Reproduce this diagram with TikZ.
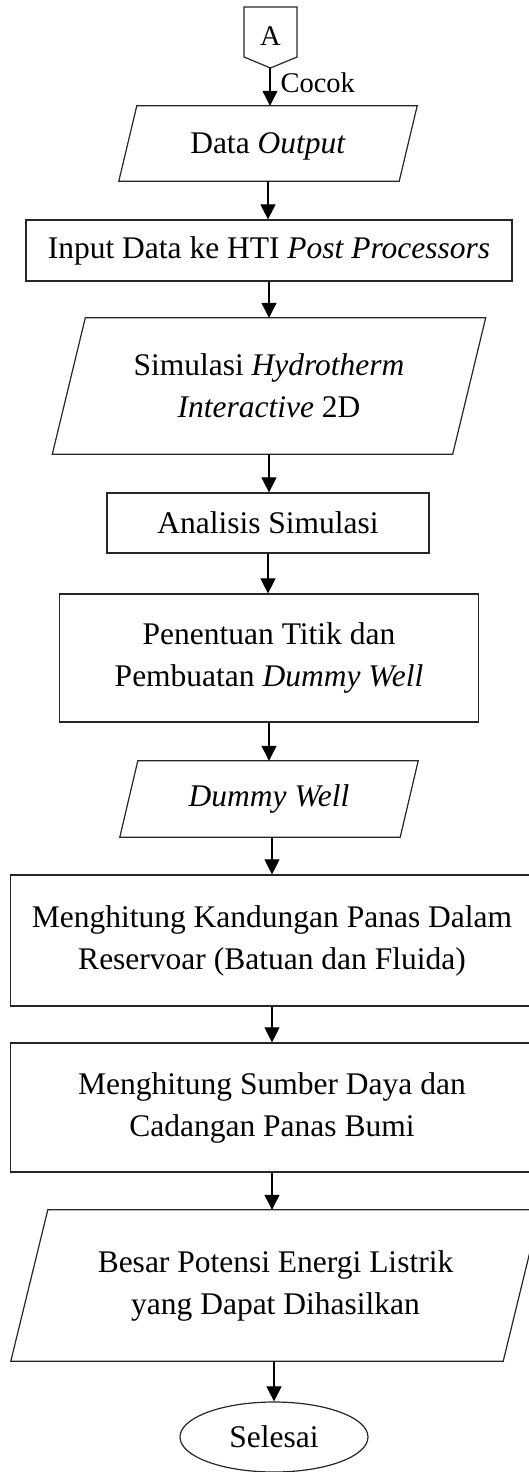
\documentclass[tikz,border=0pt]{standalone}
\usepackage{fontspec}
\setmainfont{Liberation Serif}
\usetikzlibrary{arrows.meta,calc,shapes.geometric}
\newcommand\ioshape[2]{\draw[shapeline] ($(#1.north west)+(#2/2,0)$) -- ($(#1.north east)+(#2/2,0)$) -- ($(#1.south east)-(#2/2,0)$) -- ($(#1.south west)-(#2/2,0)$) -- cycle;}
\begin{document}
\begin{tikzpicture}[x=1pt,y=-1pt,
  every node/.style={font=\fontsize{31.5}{42}\selectfont, inner sep=0pt, align=center},
  shapeline/.style={draw=black!85, line width=1.2pt},
  procbox/.style={shapeline, rectangle},
  iobox/.style={rectangle, draw=none},
  termbox/.style={shapeline, ellipse},
  arr/.style={line width=1.1pt, -{Triangle[width=15pt,length=15pt]}},
  smalltext/.style={font=\fontsize{28.5}{34}\selectfont}
]
\useasboundingbox (0,0) rectangle (529,1472);

% off-page connector A
\draw[shapeline] (244,7) -- (297,7) -- (297,57) -- (270.5,68) -- (244,57) -- cycle;
\node[smalltext] (A) at (270.5,36) {A};
\coordinate (Atip) at (270,68);

% nodes
\node[iobox, minimum width=280, minimum height=75, text depth=0pt] (dout) at (268,143.5) {Data \textit{Output}};
\ioshape{dout}{18}

\node[procbox, minimum width=486, minimum height=61] (input) at (269,250.5) {Input Data ke HTI \textit{Post Processors}};

\node[iobox, minimum width=400, minimum height=136] (sim) at (269,386) {Simulasi \textit{Hydrotherm}\\ \textit{Interactive} 2D};
\ioshape{sim}{33}

\node[procbox, minimum width=322, minimum height=60] (anal) at (268,523) {Analisis Simulasi};

\node[procbox, minimum width=419, minimum height=128] (pen) at (269,658) {Penentuan Titik dan\\ Pembuatan \textit{Dummy Well}};

\node[iobox, minimum width=280, minimum height=76] (dw) at (269,799) {\textit{Dummy Well}};
\ioshape{dw}{18}

\node[procbox, minimum width=523, minimum height=131] (heat) at (272,940.5) {Menghitung Kandungan Panas Dalam\\ Reservoar (Batuan dan Fluida)};

\node[procbox, minimum width=523, minimum height=129] (res) at (272,1107.5) {Menghitung Sumber Daya dan\\ Cadangan Panas Bumi};

\node[iobox, minimum width=492, minimum height=151] (pot) at (275.5,1285.5) {Besar Potensi Energi Listrik\\ yang Dapat Dihasilkan};
\ioshape{pot}{37}

\node[termbox, minimum width=188, minimum height=70] (end) at (274,1437) {Selesai};

% connectors
\draw[arr] (Atip) -- (Atip |- dout.north) node[smalltext, anchor=west, pos=0.4, xshift=10pt] (cocok) {Cocok};
\draw[arr] (dout.south) -- (dout.south |- input.north);
\draw[arr] (input.south) -- (input.south |- sim.north);
\draw[arr] (sim.south) -- (sim.south |- anal.north);
\draw[arr] (anal.south) -- (anal.south |- pen.north);
\draw[arr] (pen.south) -- (pen.south |- dw.north);
\draw[arr] (heat.north |- dw.south) -- (heat.north);
\draw[arr] (heat.south) -- (heat.south |- res.north);
\draw[arr] (res.south) -- (res.south |- pot.north);
\draw[arr] (end.north |- pot.south) -- (end.north);
\end{tikzpicture}
\end{document}
